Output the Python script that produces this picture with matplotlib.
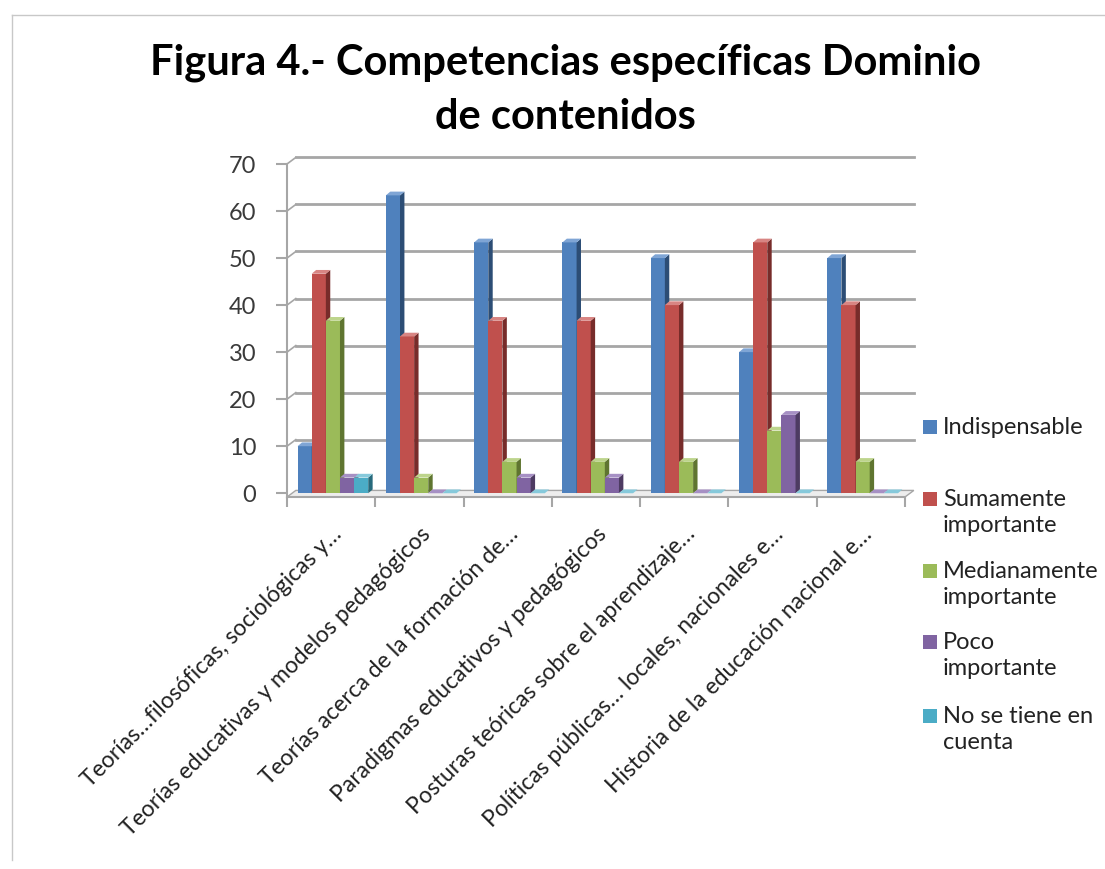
import numpy as np
import matplotlib
matplotlib.use("Agg")
import matplotlib.pyplot as plt
from matplotlib.patches import Polygon, Rectangle
from matplotlib.lines import Line2D
from matplotlib.transforms import ScaledTranslation

plt.rcParams['font.family'] = ['Lato', 'DejaVu Sans']

categories = [
    "Teorías…filosóficas, sociológicas y…",
    "Teorías educativas y modelos pedagógicos",
    "Teorías acerca de la formación de…",
    "Paradigmas educativos y pedagógicos",
    "Posturas teóricas sobre el aprendizaje…",
    "Políticas públicas… locales, nacionales e…",
    "Historia de la educación nacional e…",
]
series_names = ["Indispensable", "Sumamente\nimportante", "Medianamente\nimportante",
                "Poco\nimportante", "No se tiene en\ncuenta"]
indispensable = [10, 63.33, 53.33, 53.33, 50, 30, 50]
sumamente = [46.67, 33.33, 36.67, 36.67, 40, 53.33, 40]
medianamente = [36.67, 3.33, 6.67, 6.67, 6.67, 13.33, 6.67]
poco = [3.33, 0, 3.33, 3.33, 0, 16.67, 0]
no_tiene = [3.33, 0, 0, 0, 0, 0, 0]
yticks = [0, 10, 20, 30, 40, 50, 60, 70]

values = [indispensable, sumamente, medianamente, poco, no_tiene]
front = ['#4F81BD', '#C0504D', '#9BBB59', '#8064A2', '#4BACC6']
side = ['#2C4D75', '#772C2A', '#5F7530', '#4D3B62', '#276A7C']
top = ['#7FA5D5', '#D88583', '#BDD48C', '#A690C4', '#86C9DB']

W, H = 1105, 869
fig = plt.figure(figsize=(W / 100, H / 100), dpi=100)
ax = fig.add_axes([287 / W, 1 - 497 / H, 618 / W, 333 / H])

ax.set_xlim(-0.5, 6.5)
ax.set_ylim(-0.8, 70)

# back wall gridlines, shifted up/right for the 3D look
dxw, dyw = 0.1, 1.4
for v in yticks[1:]:
    ax.plot([-0.5, -0.5 + dxw], [v, v + dyw], color='#A6A6A6', lw=1.2, clip_on=False)
    ax.plot([-0.5 + dxw, 6.5 + dxw], [v + dyw, v + dyw], color='#A6A6A6', lw=2,
            clip_on=False, zorder=0)
# floor
ax.add_patch(Polygon([[-0.5, -0.8], [6.5, -0.8], [6.5 + dxw, -0.8 + dyw], [-0.5 + dxw, -0.8 + dyw]],
                     closed=True, facecolor='#EDEDED', edgecolor='#A6A6A6', lw=1, clip_on=False, zorder=0.5))

w = 0.16
dx, dy = 0.05, 0.8
x = np.arange(len(categories))
for s in range(5):
    xs = x + (s - 2) * w + 0.02
    ax.bar(xs, values[s], width=w, color=front[s], zorder=2 + s, linewidth=0)
    for xi, v in zip(xs, values[s]):
        r = xi + w / 2
        l = xi - w / 2
        ax.add_patch(Polygon([[r, 0], [r + dx, dy], [r + dx, v + dy], [r, v]],
                             closed=True, facecolor=side[s], lw=0, zorder=2 + s))
        ax.add_patch(Polygon([[l, v], [l + dx, v + dy], [r + dx, v + dy], [r, v]],
                             closed=True, facecolor=top[s], lw=0, zorder=2 + s))

for sp in ['top', 'right']:
    ax.spines[sp].set_visible(False)
for sp in ['left', 'bottom']:
    ax.spines[sp].set_color('#A6A6A6')
    ax.spines[sp].set_linewidth(1.5)

ax.set_yticks(yticks)
ax.tick_params(axis='y', colors='#A6A6A6', labelcolor='#3A3A3A', labelsize=17, length=8, width=1.5, pad=14)
ax.set_xticks(x)
ax.set_xticklabels(categories, rotation=45, ha='right', rotation_mode='anchor', fontsize=16.5, color='#222222')
ax.tick_params(axis='x', length=0, pad=19)
ax.set_xticks(np.arange(-0.5, 7, 1), minor=True)
ax.tick_params(axis='x', which='minor', colors='#A6A6A6', length=7, width=1.5)
for lbl in ax.get_xticklabels():
    lbl.set_transform(lbl.get_transform() + ScaledTranslation(0, 0, fig.dpi_scale_trans))

fig.suptitle("Figura 4.- Competencias específicas Dominio\nde contenidos", x=565 / W, y=1 - 44 / H,
             fontsize=30, fontweight='bold', va='top', linespacing=1.5)

# legend
leg_y = [427, 499, 571, 642, 716]
for s in range(5):
    yy = 1 - leg_y[s] / H
    fig.patches.append(Rectangle((923 / W, yy - 7 / H), 14 / W, 14 / H,
                                 transform=fig.transFigure, facecolor=front[s], lw=0))
    fig.text(943 / W, yy + 10 / H, series_names[s], fontsize=17, va='top', ha='left',
             color='#222222', linespacing=1.3)

# chart frame
fig.add_artist(Line2D([12 / W, 1], [1 - 15 / H, 1 - 15 / H], transform=fig.transFigure,
                      color='#C8C8C8', lw=1))
fig.add_artist(Line2D([12 / W, 12 / W], [1 - 15 / H, 1 - 860 / H], transform=fig.transFigure,
                      color='#C8C8C8', lw=1))

fig.savefig("out.png", dpi=100)
